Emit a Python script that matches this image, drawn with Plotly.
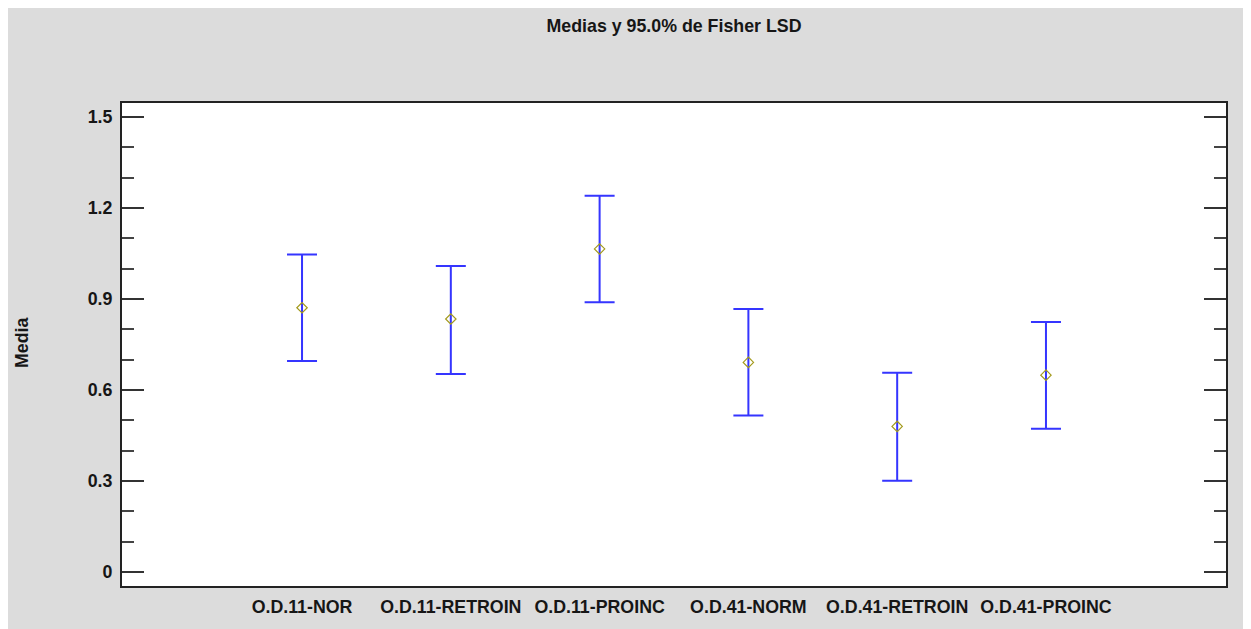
import plotly.graph_objects as go

categories = ["O.D.11-NOR", "O.D.11-RETROIN", "O.D.11-PROINC",
              "O.D.41-NORM", "O.D.41-RETROIN", "O.D.41-PROINC"]
means = [0.871, 0.834, 1.065, 0.691, 0.480, 0.649]
upper = [1.047, 1.009, 1.240, 0.867, 0.657, 0.824]
lower = [0.696, 0.653, 0.889, 0.516, 0.301, 0.472]
y_ticks = [0, 0.3, 0.6, 0.9, 1.2, 1.5]

idx = list(range(len(categories)))
err_plus = [u - m for u, m in zip(upper, means)]
err_minus = [m - l for m, l in zip(means, lower)]

FONT = "Liberation Sans, Arial, sans-serif"
FS = 17.8
TXT = "#161616"

# page body adds an 8px margin; figure coordinates below are relative to the figure
W, H = 1243, 621
L, R, T, B = 114, 25, 95, 43
pw, ph = W - L - R, H - T - B

fig = go.Figure()
fig.add_trace(go.Scatter(
    x=idx, y=means, mode="markers",
    marker=dict(symbol="diamond-open", size=8, color="#a39a1c",
                line=dict(width=1.2, color="#a39a1c")),
    error_y=dict(type="data", symmetric=False, array=err_plus,
                 arrayminus=err_minus, color="#3535ff", thickness=2, width=15),
    showlegend=False,
))

fig.add_annotation(text="<b>Media</b>", xref="paper", yref="paper",
                   x=(14 - L) / pw, y=(H - B - 335) / ph, textangle=-90,
                   showarrow=False, xanchor="center", yanchor="middle",
                   font=dict(family=FONT, size=FS, color=TXT))

fig.update_layout(
    width=W, height=H,
    margin=dict(l=L, r=R, t=T, b=B, autoexpand=False),
    paper_bgcolor="rgb(220,220,220)", plot_bgcolor="white",
    title=dict(text="<b>Medias y 95.0% de Fisher LSD</b>", x=0.5, xref="paper",
               y=1 - 18 / H, yref="container", xanchor="center", yanchor="middle",
               font=dict(family=FONT, size=FS, color=TXT)),
    font=dict(family=FONT, size=FS, color=TXT),
)
fig.update_xaxes(range=[-1.21, 6.21], tickvals=idx,
                 ticktext=[f"<b>{c}</b>" for c in categories],
                 ticks="", showgrid=False, zeroline=False, ticklabelstandoff=4,
                 showline=True, linecolor="#222", linewidth=2, mirror=True,
                 tickfont=dict(family=FONT, size=FS, color=TXT))
fig.update_yaxes(range=[-0.046, 1.546], tickvals=y_ticks,
                 ticktext=[f"<b>{v:g}</b>" for v in y_ticks],
                 ticks="inside", ticklen=22, tickwidth=1.5, tickcolor="#333",
                 minor=dict(ticks="inside", ticklen=12, tickwidth=1.5,
                            tickcolor="#444", dtick=0.1, tick0=0, showgrid=False),
                 showgrid=False, zeroline=False, ticklabelstandoff=4,
                 showline=True, linecolor="#222", linewidth=2, mirror="ticks",
                 tickfont=dict(family=FONT, size=FS, color=TXT))

fig.write_html("out.html")
